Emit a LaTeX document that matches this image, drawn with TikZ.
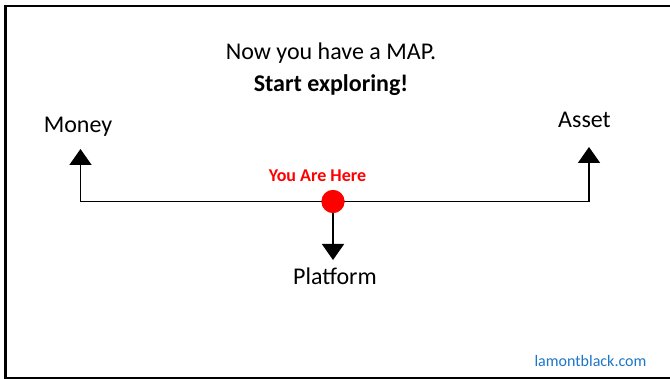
\documentclass[tikz,border=0pt]{standalone}
\usepackage{fontspec}
\setmainfont{Carlito}
\usetikzlibrary{arrows.meta}
\definecolor{linkblue}{RGB}{28,118,200}
\tikzset{
  label24/.style={font=\fontsize{24}{29}\selectfont, anchor=base, inner sep=0pt},
  conn/.style={line width=1.7pt, draw=black},
  arr/.style={conn, -{Triangle[width=22pt,length=16pt,fill=black]}},
  marker/.style={circle, fill=red, draw=none, minimum size=23pt, inner sep=0pt},
}
\begin{document}
\begin{tikzpicture}[x=1pt,y=-1pt]
  \useasboundingbox (0,0) rectangle (670,379);
  \fill[white] (0,0) rectangle (670,379);
  \begin{scope}
    \clip (0,0) rectangle (670,379);
    % slide frame (open to the right)
    \draw[line width=2.6pt, black] (680,6) -- (5.5,6) -- (5.5,378) -- (680,378);
  \end{scope}

  % heading
  \node[label24] (title) at (331,60) {Now you have a MAP.};
  \node[label24, font=\fontsize{24}{29}\selectfont\bfseries] (sub) at (331,91.5) {Start exploring!};

  % end-point labels
  \node[label24] (money) at (78,133) {Money};
  \node[label24] (asset) at (584.5,128) {Asset};
  \node[label24] (platform) at (335,284.5) {Platform};

  % current position
  \node[marker] (here) at (333,201.5) {};
  \node[anchor=base, inner sep=0pt, text=red, font=\fontsize{18}{22}\selectfont\bfseries] (herelbl) at (317.5,181.5) {You Are Here};

  % arrow tips
  \coordinate (mtip) at (80.5,149);
  \coordinate (atip) at (589,147);
  \coordinate (ptip) at (333,260);

  % connectors
  \draw[arr] (here.center) -| (mtip);
  \draw[arr] (here.center) -| (atip);
  \draw[arr] (here.center) -- (ptip);
  \node[marker] at (here) {};

  % footer
  \node[anchor=base, inner sep=0pt, text=linkblue, font=\fontsize{16}{19}\selectfont] (site) at (590.5,366.5) {lamontblack.com};
\end{tikzpicture}
\end{document}
